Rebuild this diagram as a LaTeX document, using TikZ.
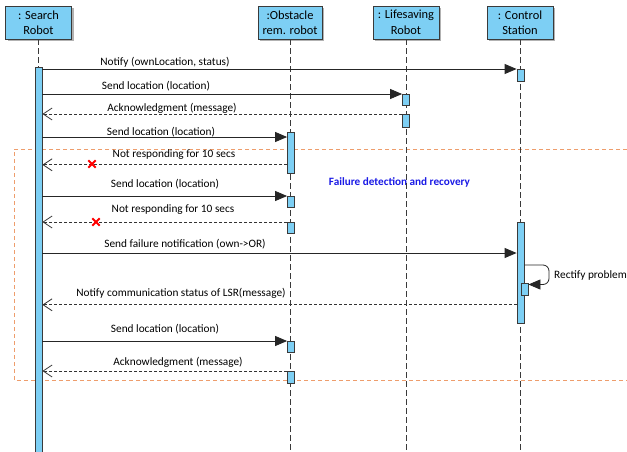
\documentclass[tikz,border=0pt]{standalone}
\usepackage{fontspec}
\setmainfont{Carlito}
\usetikzlibrary{arrows.meta,shadows,shapes.misc,calc}
\definecolor{actblue}{HTML}{7DCFF4}
\definecolor{edgegrey}{HTML}{3A3A3A}
\definecolor{fragorange}{HTML}{EE9D6C}
\definecolor{noteblue}{HTML}{1A1AE6}
\tikzset{
  head/.style={draw=edgegrey, fill=actblue, line width=0.8pt, minimum width=66pt,
    minimum height=33pt, inner sep=0pt, align=center,
    font=\fontsize{12.4}{15.5}\selectfont,
    drop shadow={shadow xshift=2pt, shadow yshift=-2pt, opacity=0.3, fill=black}},
  lifeline/.style={draw=edgegrey, line width=0.9pt, dash pattern=on 6pt off 3pt},
  actbar/.style={draw=edgegrey, fill=actblue, line width=0.8pt, minimum width=7pt,
    inner sep=0pt, anchor=north},
  msg/.style={draw=black!85, line width=0.8pt, -{Triangle[length=12pt,width=10pt]}},
  reply/.style={draw=black!80, line width=0.8pt, dash pattern=on 3pt off 2pt,
    -{Straight Barb[length=9pt,width=12pt,line width=0.8pt]}},
  lab/.style={font=\fontsize{11.3}{13}\selectfont, inner sep=0pt},
  lost/.style={cross out, draw=red, line width=1.8pt, minimum size=5.5pt, inner sep=0pt},
  frag/.style={draw=fragorange, line width=0.8pt, dash pattern=on 4pt off 3pt},
}
\begin{document}
\begin{tikzpicture}[x=1pt,y=-1pt]
\useasboundingbox[fill=white] (0,0) rectangle (627,451);

% combined fragment (open on the right)
\draw[frag] (627,149) -- (14,149) -- (14,380) -- (627,380);
\node[font=\fontsize{11.2}{13}\selectfont\bfseries, text=noteblue, inner sep=0pt]
  (fragname) at (399.5,182) {Failure detection and recovery};

% lifeline heads
\node[head] (hs) at (38.5,22.5) {: Search\\Robot};
\node[head, minimum width=64pt] (ho) at (290,22.5) {:Obstacle\\rem. robot};
\node[head] (hl) at (406,22.5) {: Lifesaving\\Robot};
\node[head] (hc) at (520,22.5) {: Control\\Station};

% lifelines
\coordinate (es) at (38.5,451);
\coordinate (eo) at (290.5,451);
\coordinate (el) at (406,451);
\coordinate (ec) at (520.5,451);
\draw[lifeline] (hs.south) -- (es);
\draw[lifeline] (ho.south -| eo) -- (eo);
\draw[lifeline] (hl.south) -- (el);
\draw[lifeline] (hc.south -| ec) -- (ec);

% activation bars
\node[actbar, minimum height=390pt] (sb) at (38.5,67) {};
\node[actbar, minimum height=12pt] (c1) at (520.5,69) {};
\node[actbar, minimum height=11pt] (l1) at (406,94) {};
\node[actbar, minimum height=13pt] (l2) at (406,114) {};
\node[actbar, minimum height=41pt] (ob1) at (291,132) {};
\node[actbar, minimum height=11pt] (ob2) at (291,196) {};
\node[actbar, minimum height=11pt] (ob3) at (291,222) {};
\node[actbar, minimum height=101pt] (cb) at (520.5,222) {};
\node[actbar, minimum height=12pt] (cs) at (524.5,283) {};
\node[actbar, minimum height=11pt] (ob4) at (291,341) {};
\node[actbar, minimum height=12pt] (ob5) at (291,371) {};

% messages
\draw[msg] (sb.east |- c1.north west) -- (c1.north west);
\node[lab] (m1) at (165,62) {Notify (ownLocation, status)};

\draw[msg] (sb.east |- l1.north west) -- (l1.north west);
\node[lab] (m2) at (156,86) {Send location (location)};

\draw[reply] (l2.north west) -- (sb.east |- l2.north west);
\node[lab] (m3) at (172,108) {Acknowledgment (message)};

\coordinate (o1in) at ($(ob1.north west)+(0,5)$);
\draw[msg] (sb.east |- o1in) -- (o1in);
\node[lab] (m4) at (161,132) {Send location (location)};

\coordinate (o1out) at ($(ob1.south west)+(0,-9)$);
\draw[reply] (o1out) -- (sb.east |- o1out);
\node[lost] (x1) at (92,164) {};
\node[lab] (m5) at (174,155) {Not responding for 10 secs};

\draw[msg] (sb.east |- ob2.north west) -- (ob2.north west);
\node[lab] (m6) at (165,184) {Send location (location)};

\draw[reply] (ob3.north west) -- (sb.east |- ob3.north west);
\node[lost] (x2) at (96,222) {};
\node[lab] (m7) at (173,210) {Not responding for 10 secs};

\coordinate (cbin) at ($(cb.north west)+(0,31)$);
\draw[msg] (sb.east |- cbin) -- (cbin);
\node[lab] (m8) at (185,244) {Send failure notification (own->OR)};

% self call on the control station
\coordinate (cbself) at ($(cb.north east)+(0,43)$);
\coordinate (csin) at ($(cs.north east)+(0,1.5)$);
\coordinate (selfx) at (549,0);
\draw[msg, rounded corners=6pt]
  (cbself) -- (cbself -| selfx) -- (csin -| selfx) -- (csin);
\node[lab, anchor=west] (m9) at (554,275) {Rectify problem};

\coordinate (cbout) at ($(cb.south west)+(0,-19)$);
\draw[reply] (cbout) -- (sb.east |- cbout);
\node[lab] (m10) at (181,293) {Notify communication status of LSR(message)};

\draw[msg] (sb.east |- ob4.north west) -- (ob4.north west);
\node[lab] (m11) at (165,329) {Send location (location)};

\draw[reply] (ob5.north west) -- (sb.east |- ob5.north west);
\node[lab] (m12) at (178,362) {Acknowledgment (message)};
\end{tikzpicture}
\end{document}
